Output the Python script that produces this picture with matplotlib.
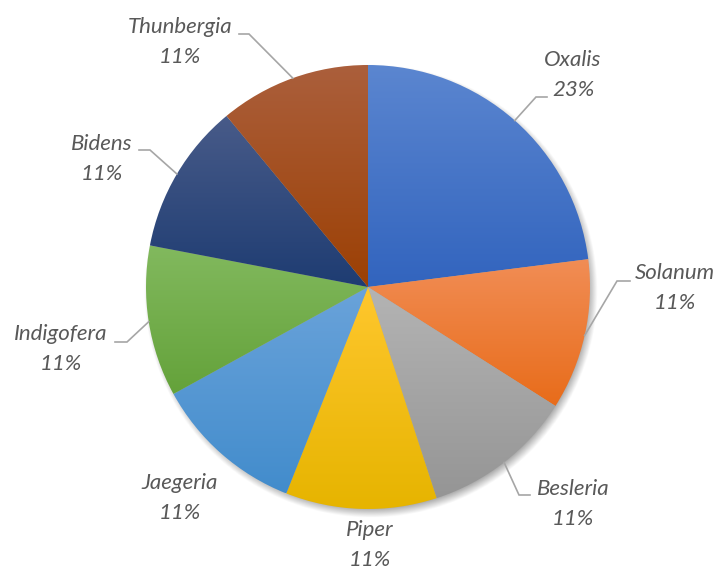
import numpy as np
import matplotlib.pyplot as plt
from matplotlib.colors import to_rgb

# Genus share of the sample, in percent
genera = ["Oxalis", "Solanum", "Besleria", "Piper", "Jaegeria",
          "Indigofera", "Bidens", "Thunbergia"]
shares = [23, 11, 11, 11, 11, 11, 11, 11]

# Top / bottom colours of each slice's vertical gradient
top_colors = ["#5b86d0", "#f18d55", "#b4b4b4", "#ffc72e",
              "#6aa3da", "#82b95e", "#485b89", "#ab5f3c"]
bottom_colors = ["#3264be", "#e86c1a", "#959595", "#e6b400",
                 "#428ccc", "#64a23a", "#1e3c72", "#9c4004"]

# Label layout in pixels from the top-left corner: name centre,
# then leader elbow and hook end (None when there is no leader)
label_pos = [(573, 60), (675, 273), (573, 489), (370, 530),
             (180, 483), (61, 334), (102, 144), (180, 27)]
leaders = [((536, 97), 547), ((617, 281), 630), ((519, 495), 530), None,
           None, ((127, 342), 115), ((150, 150), 139), ((249, 34), 239)]

W, H = 720, 570
cx, cy, r = 368, H - 287, 222

fig = plt.figure(figsize=(7.2, 5.7), dpi=100)
ax = fig.add_axes([0, 0, 1, 1])

# soft drop shadow under the pie
gx = np.linspace(cx - r - 30, cx + r + 30, 600)
gy = np.linspace(cy - r - 30, cy + r + 30, 600)
XX, YY = np.meshgrid(gx, gy)
d = np.hypot(XX - (cx + 3), YY - (cy - 4))
shadow = np.zeros(XX.shape + (4,))
shadow[..., 3] = 0.35 * np.clip((r + 5 - d) / 10, 0, 1)
ax.imshow(shadow, extent=(gx[0], gx[-1], gy[0], gy[-1]), origin='lower',
          aspect='auto', zorder=1, interpolation='bilinear')

wedges, _ = ax.pie(shares, startangle=90, counterclock=False,
                   center=(cx, cy), radius=r,
                   wedgeprops=dict(facecolor='none', linewidth=0))

# fill every wedge with its own top-to-bottom gradient
for w, c0, c1 in zip(wedges, top_colors, bottom_colors):
    bb = w.get_path().get_extents()
    t = np.linspace(0, 1, 256)[:, None]
    grad = (1 - t) * np.array(to_rgb(c0)) + t * np.array(to_rgb(c1))
    im = ax.imshow(grad[:, None, :], extent=(bb.x0, bb.x1, bb.y0, bb.y1),
                   origin='upper', aspect='auto', zorder=2,
                   interpolation='bilinear')
    im.set_clip_path(w)

text_kw = dict(ha='center', va='center', style='italic', color='#595959',
               fontsize=16, family=['Lato', 'DejaVu Sans'])
for w, name, pct, (lx, ly), ld in zip(wedges, genera, shares,
                                      label_pos, leaders):
    ax.text(lx, H - ly, name, **text_kw)
    ax.text(lx, H - ly - 30, f"{pct}%", **text_kw)
    if ld is not None:
        mid = np.deg2rad((w.theta1 + w.theta2) / 2)
        sx, sy = cx + r * np.cos(mid), cy + r * np.sin(mid)
        (ex, ey), hx = ld
        ax.plot([sx, ex, hx], [sy, H - ey, H - ey], color='#a6a6a6',
                lw=1.2, zorder=3, solid_joinstyle='miter')

ax.set_xlim(0, W)
ax.set_ylim(0, H)
ax.set_aspect('equal')
ax.axis('off')

plt.savefig("out.png", dpi=100, facecolor='white')
